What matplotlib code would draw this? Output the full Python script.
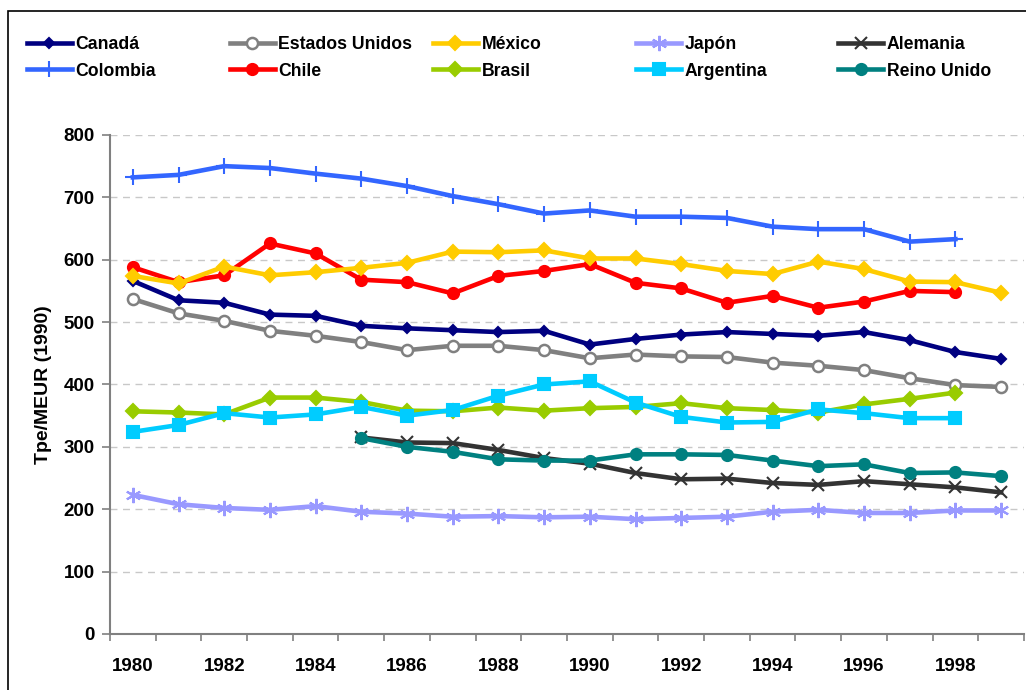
import matplotlib
matplotlib.use("Agg")
import matplotlib.pyplot as plt
from matplotlib.patches import Rectangle
import numpy as np

plt.rcParams.update({
    "font.family": ["Liberation Sans", "DejaVu Sans"],
    "font.size": 13,
    "font.weight": "bold",
})

# ── Data (Tpe/MEUR 1990) ──────────────────────────────────────
years = list(range(1980, 2000))

canada = [566, 535, 531, 512, 510, 494, 490, 487, 484, 486,
          464, 473, 480, 484, 481, 478, 484, 471, 452, 441]
estados_unidos = [537, 514, 502, 486, 478, 468, 455, 462, 462, 455,
                  442, 448, 445, 444, 435, 430, 423, 410, 399, 396]
mexico = [574, 562, 589, 575, 580, 587, 595, 613, 612, 615,
          602, 602, 593, 582, 577, 597, 585, 565, 564, 547]
japon = [223, 208, 202, 199, 205, 196, 193, 188, 189, 187,
         188, 184, 186, 188, 196, 199, 194, 194, 198, 198]
alemania = [None] * 5 + [315, 307, 306, 295, 282,
                         273, 258, 248, 249, 242, 239, 245, 240, 235, 227]
colombia = [732, 736, 750, 747, 738, 730, 718, 702, 689, 674,
            679, 669, 669, 667, 653, 649, 649, 629, 633, None]
chile = [588, 564, 575, 626, 610, 568, 564, 546, 574, 582,
         593, 563, 554, 531, 542, 523, 533, 550, 548, None]
brasil = [357, 355, 352, 379, 379, 372, 358, 357, 363, 358,
          362, 364, 370, 362, 359, 355, 368, 377, 387, None]
argentina = [324, 335, 354, 347, 352, 364, 350, 359, 382, 400,
             405, 371, 348, 339, 340, 360, 354, 346, 346, None]
reino_unido = [None] * 5 + [314, 300, 292, 280, 278,
                            278, 288, 288, 287, 278, 269, 272, 258, 259, 253]

# label, values, color, marker, markersize, filled
series = [
    ("Canadá", canada, "#000080", "D", 5, True),
    ("Colombia", colombia, "#3366FF", "+", 12, True),
    ("Estados Unidos", estados_unidos, "#808080", "o", 8, False),
    ("Chile", chile, "#FF0000", "o", 8, True),
    ("México", mexico, "#FFCC00", "D", 7, True),
    ("Brasil", brasil, "#99CC00", "D", 7, True),
    ("Japón", japon, "#9999FF", (6, 2, 0), 11, True),
    ("Argentina", argentina, "#00CCFF", "s", 8, True),
    ("Alemania", alemania, "#333333", "x", 9, True),
    ("Reino Unido", reino_unido, "#008080", "o", 8, True),
]

fig = plt.figure(figsize=(10.26, 6.9), dpi=100)
ax = fig.add_axes([0.1072, 0.0812, 0.8908, 0.7232])

x = np.arange(len(years))
handles = []
for label, vals, color, marker, ms, filled in series:
    y = np.array([np.nan if v is None else v for v in vals], dtype=float)
    kw = dict(color=color, lw=3.3, marker=marker, markersize=ms,
              markeredgecolor=color, markeredgewidth=1.8 if not filled else 1.5,
              label=label, zorder=3)
    kw["markerfacecolor"] = color if filled else "white"
    h, = ax.plot(x, y, **kw)
    handles.append(h)

ax.set_xlim(-0.5, len(years) - 0.5)
ax.set_ylim(0, 800)
ax.set_yticks(range(0, 801, 100))
ax.yaxis.grid(True, linestyle=(0, (5, 4)), color="#C8C8C8", lw=1)
ax.set_axisbelow(True)

ax.set_xticks(np.arange(-0.5, len(years), 1.0))
ax.set_xticklabels([])
ax.set_xticks(x[::2], minor=True)
ax.set_xticklabels([str(yr) for yr in years[::2]], minor=True)
ax.tick_params(axis="x", which="major", direction="out", length=5,
               color="#808080", width=1.2)
ax.tick_params(axis="x", which="minor", length=0, pad=17, labelsize=13.5)
ax.tick_params(axis="y", direction="out", length=6, color="#808080",
               width=1.2, labelsize=13.5, pad=5)

for s in ("top", "right"):
    ax.spines[s].set_visible(False)
for s in ("left", "bottom"):
    ax.spines[s].set_color("#808080")
    ax.spines[s].set_linewidth(1.5)

ax.set_ylabel("Tpe/MEUR (1990)", fontsize=14, fontweight="bold", labelpad=8)

# legend: five columns of two entries, evenly spaced like the original
col_x = [0.0263, 0.224, 0.422, 0.620, 0.817]
for i, cx in enumerate(col_x):
    leg = fig.legend(handles=handles[2 * i:2 * i + 2], loc="upper left",
                     bbox_to_anchor=(cx, 0.948), frameon=False,
                     handlelength=2.55, handletextpad=0.2,
                     labelspacing=0.55, borderpad=0, borderaxespad=0,
                     fontsize=12.7)
    for t in leg.get_texts():
        t.set_fontweight("bold")

# outer chart frame
fig.add_artist(Rectangle((8 / 1026, -0.1), 1.2, 1.1 - 11 / 690,
                         transform=fig.transFigure, fill=False,
                         edgecolor="black", lw=1.2))

fig.savefig("out.png", dpi=100, facecolor="white")
